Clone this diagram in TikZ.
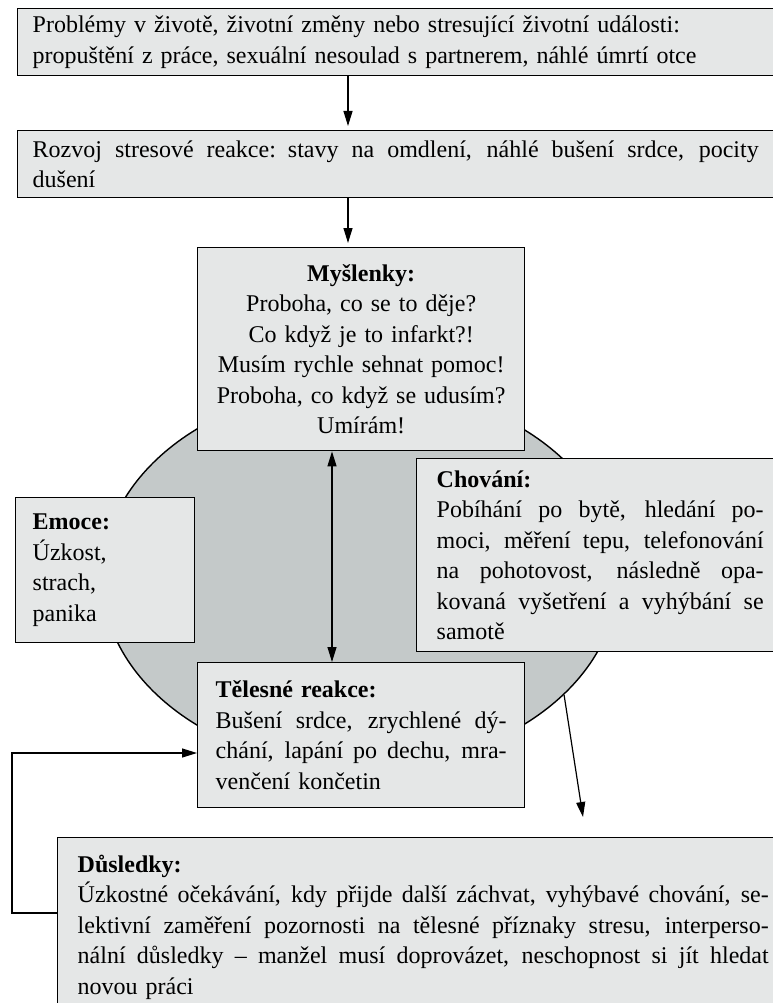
\documentclass[tikz,border=0pt]{standalone}
\usepackage{fontspec}
\setmainfont{Liberation Serif}
\usetikzlibrary{arrows.meta,shapes.geometric,calc}
\definecolor{boxfill}{HTML}{E5E7E7}
\definecolor{ellfill}{HTML}{C4C9C9}
\newcommand\jline[2]{{\spaceskip=.25em plus .8em minus .1em\makebox[#1][s]{#2}}}
\begin{document}
\begin{tikzpicture}[x=1pt,y=-1pt,
  box/.style={draw=black, line width=1.4pt, fill=boxfill, anchor=north west, align=left,
    inner ysep=0pt, font=\fontsize{24}{30.5}\selectfont},
  conn/.style={line width=1.2pt, -{Triangle[length=15pt,width=9pt]}},
]
\useasboundingbox (0,0) rectangle (772,1003);
\fill[white] (0,0) rectangle (772,1003);

\node[draw, line width=1.4pt, fill=ellfill, ellipse, minimum width=516pt,
  minimum height=382pt, inner sep=0pt] (ell) at (360,577) {};

\node[box, inner xsep=15pt, text width=760pt, minimum height=67pt] (b1) at (17,8)
  {Problémy v životě, životní změny nebo stresující životní události:\\
   propuštění z práce, sexuální nesoulad s partnerem, náhlé úmrtí otce};

\node[box, inner xsep=15pt, text width=760pt, minimum height=67pt] (b2) at (17,130)
  {\jline{726pt}{Rozvoj stresové reakce: stavy na omdlení, náhlé bušení srdce, pocity}\\
   dušení};

\node[box, align=center, inner xsep=18pt, text width=291pt, minimum height=203pt] (my) at (197,247)
  {\textbf{Myšlenky:}\\ Proboha, co se to děje?\\ Co když je to infarkt?!\\
   Musím rychle sehnat pomoc!\\ Proboha, co když se udusím?\\ Umírám!};

\node[box, inner xsep=17pt, text width=145pt, minimum height=145pt] (emo) at (15,497)
  {\textbf{Emoce:}\\ Úzkost,\\ strach,\\ panika};

\node[box, inner xsep=20pt, text width=327pt, minimum height=193pt] (cho) at (416,458)
  {\textbf{Chování:}\\
   \jline{327pt}{Pobíhání po bytě, hledání po-}\\
   \jline{327pt}{moci, měření tepu, telefonování}\\
   \jline{327pt}{na pohotovost, následně opa-}\\
   \jline{327pt}{kovaná vyšetření a vyhýbání se}\\
   samotě};

\node[box, inner xsep=18pt, text width=291pt, minimum height=145pt] (tel) at (197,662)
  {\textbf{Tělesné reakce:}\\
   \jline{291pt}{Bušení srdce, zrychlené dý-}\\
   \jline{291pt}{chání, lapání po dechu, mra-}\\
   venčení končetin};

\node[box, inner xsep=20pt, text width=691pt, minimum height=179pt] (dus) at (57,837)
  {\textbf{Důsledky:}\\
   \jline{691pt}{Úzkostné očekávání, kdy přijde další záchvat, vyhýbavé chování, se-}\\
   \jline{691pt}{lektivní zaměření pozornosti na tělesné příznaky stresu, interperso-}\\
   \jline{691pt}{nální důsledky – manžel musí doprovázet, neschopnost si jít hledat}\\
   novou práci};

\coordinate (a1) at (348,0);
\coordinate (a2) at (332,0);
\coordinate (fb) at (12,0);
\coordinate (dz) at (583,817);
\coordinate (fbA) at ($(dus.north west)+(0,76)$);
\coordinate (fbB) at ($(tel.north west)+(0,91)$);

\draw[conn, shorten >=4pt] (b1.south -| a1) -- (b2.north -| a1);
\draw[conn, shorten >=4pt] (b2.south -| a1) -- (my.north -| a1);
\draw[line width=1.2pt, {Triangle[length=15pt,width=9pt]}-{Triangle[length=15pt,width=9pt]}]
  (my.south -| a2) -- (tel.north -| a2);
\draw[conn] (ell.-30.8) -- (dz);
\draw[conn] (fbA) -- (fbA -| fb) -- (fb |- fbB) -- (fbB);
\end{tikzpicture}
\end{document}
